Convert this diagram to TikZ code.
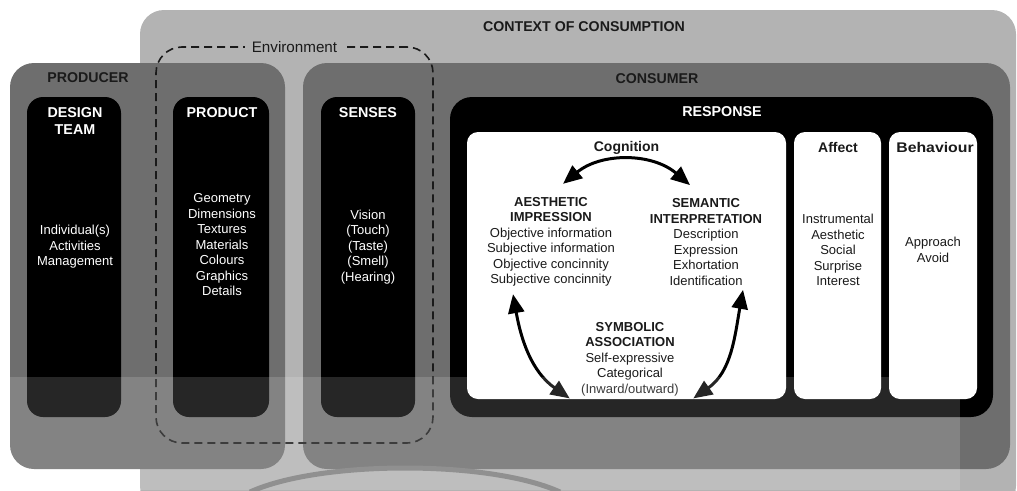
\documentclass[tikz,border=0pt]{standalone}
\usepackage{fontspec}
\setmainfont{Liberation Sans}
\usetikzlibrary{positioning,arrows.meta}

\definecolor{ctxgray}{HTML}{B3B3B3}
\definecolor{midgray}{HTML}{6E6E6E}
\definecolor{inkgray}{HTML}{1A1A1A}
\definecolor{arcgray}{HTML}{909090}

\tikzset{
  panel/.style={fill=midgray, rounded corners=24pt, inner sep=0pt},
  blackbox/.style={fill=black, rounded corners=16pt, inner sep=0pt},
  whitebox/.style={fill=white, rounded corners=11pt, inner sep=0pt},
  title/.style={font=\fontsize{14.2}{16}\selectfont\bfseries, text=inkgray},
  boxhead/.style={font=\fontsize{14.3}{17}\selectfont\bfseries, text=white, align=center},
  boxlist/.style={font=\fontsize{13}{15.5}\selectfont, text=white, align=center},
  cellhead/.style={font=\fontsize{14}{16}\selectfont\bfseries, text=inkgray},
  celllist/.style={font=\fontsize{13}{15.5}\selectfont, text=inkgray, align=center},
  cogarrow/.style={<->, line width=3pt, >={Triangle[length=19pt,width=16pt]}},
  envline/.style={draw=inkgray, line width=1.6pt, dash pattern=on 8pt off 5pt, rounded corners=26pt},
}

\begin{document}
\begin{tikzpicture}[x=1pt,y=1pt]
   \useasboundingbox (0,0) rectangle (1017,-490);
   % outer areas
   \node[panel, fill=ctxgray, minimum width=876pt, minimum height=500pt] (context) at (578,-260) {};
   \node[panel, minimum width=275pt, minimum height=406pt] (producer) at (147.5,-266) {};
   \node[panel, minimum width=707pt, minimum height=406pt] (consumer) at (656.5,-266) {};
   \node[title] (ctxlabel) at (584,-27) {CONTEXT OF CONSUMPTION};
   \node[title] (prodlabel) at (88,-78) {PRODUCER};
   \node[title] (conslabel) at (657,-79) {CONSUMER};

   % black columns
   \node[blackbox, minimum width=94pt, minimum height=320pt] (design) at (74,-257) {};
   \node[blackbox, minimum width=96pt, minimum height=320pt] (product) at (221,-257) {};
   \node[blackbox, minimum width=94pt, minimum height=320pt] (senses) at (368,-257) {};
   \node[blackbox, rounded corners=22pt, minimum width=543pt, minimum height=320pt] (response) at (721.5,-257) {};

   \node[boxhead] at (75,-121.5) {DESIGN\\TEAM};
   \node[boxlist] at (75,-247) {Individual(s)\\Activities\\Management};
   \node[boxhead] at (222,-113) {PRODUCT};
   \node[boxlist] at (222,-245) {Geometry\\Dimensions\\Textures\\Materials\\Colours\\Graphics\\Details};
   \node[boxhead] at (368,-113) {SENSES};
   \node[boxlist] at (368,-247) {Vision\\(Touch)\\(Taste)\\(Smell)\\(Hearing)};
   \node[boxhead] at (722,-112) {RESPONSE};

   % white cells
   \node[whitebox, minimum width=319pt, minimum height=267pt] (cognition) at (626.5,-265.5) {};
   \node[whitebox, minimum width=87pt, minimum height=267pt] (affect) at (837.5,-265.5) {};
   \node[whitebox, minimum width=88pt, minimum height=267pt] (behaviour) at (933,-265.5) {};

   \node[cellhead] at (626.5,-148) {Cognition};
   \node[cellhead] at (838,-147) {Affect};
   \node[cellhead] at (935,-147) {\scalebox{1.13}[1]{Behaviour}};
   \node[celllist] at (838,-250) {Instrumental\\Aesthetic\\Social\\Surprise\\Interest};
   \node[celllist] at (933,-250) {Approach\\Avoid};

   \node[celllist] (aes) at (551,-242) {\textbf{AESTHETIC}\\\textbf{IMPRESSION}\\Objective information\\Subjective information\\Objective concinnity\\Subjective concinnity};
   \node[celllist] (sem) at (706,-242) {\textbf{SEMANTIC}\\\textbf{INTERPRETATION}\\Description\\Expression\\Exhortation\\Identification};
   \node[celllist] (sym) at (630,-359) {\textbf{SYMBOLIC}\\\textbf{ASSOCIATION}\\Self-expressive\\Categorical\\(Inward/outward)};

   \draw[cogarrow] ([xshift=12pt,yshift=10pt]aes.north) to[bend left=40] ([xshift=-16pt,yshift=10pt]sem.north);
   \draw[cogarrow] ([xshift=-38pt,yshift=-4pt]aes.south) to[out=-80,in=145] ([xshift=-8pt,yshift=1pt]sym.south west);
   \draw[cogarrow] ([xshift=37pt,yshift=-1pt]sem.south) to[out=-100,in=35] ([xshift=11pt,yshift=1pt]sym.south east);

   % environment
   \node[envline, minimum width=277pt, minimum height=396pt] (env) at (294.5,-245) {};
   \node[fill=ctxgray, inner xsep=7pt, inner ysep=1pt, font=\fontsize{15.2}{17}\selectfont, text=inkgray] (envlabel) at ([yshift=-1pt]env.north) {Environment};

   % scan shading
   \fill[white, opacity=0.15] (5,-377) rectangle (960,-490);
   \draw[arcgray, line width=5pt] (250,-492) .. controls (320,-460) and (490,-460) .. (560,-492);
\end{tikzpicture}
\end{document}
